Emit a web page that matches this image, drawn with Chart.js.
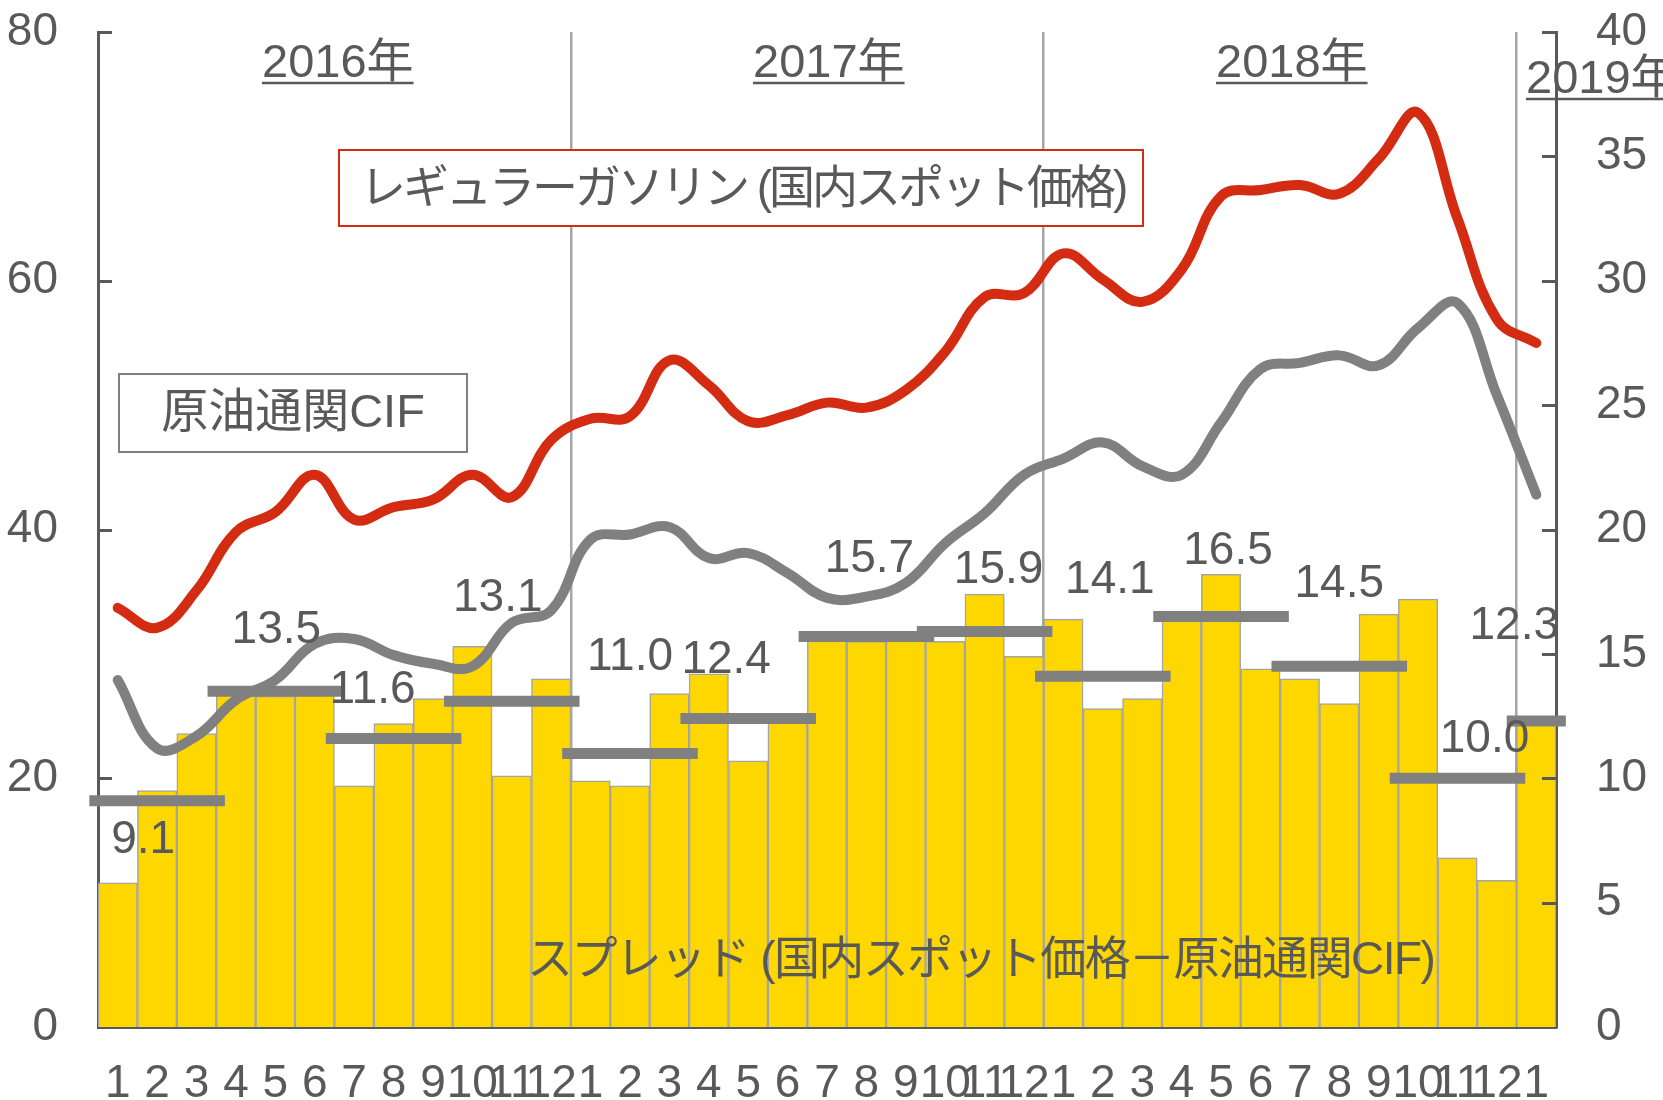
<!DOCTYPE html>
<html>
<head>
<meta charset="utf-8">
<script src="https://cdn.jsdelivr.net/npm/chart.js@4.4.0/dist/chart.umd.min.js"></script>
<style>
  html, body { margin: 0; padding: 0; background: #ffffff; }
  #wrap { width: 1663px; height: 1100px; }
</style>
</head>
<body>
<div id="wrap"><canvas id="spreadChart" width="1663" height="1100"></canvas></div>
<script>
// 2016/1 - 2019/1, monthly
const months = ['1', '2', '3', '4', '5', '6', '7', '8', '9', '10', '11', '12',
                '1', '2', '3', '4', '5', '6', '7', '8', '9', '10', '11', '12',
                '1', '2', '3', '4', '5', '6', '7', '8', '9', '10', '11', '12',
                '1'];

// レギュラーガソリン (国内スポット価格), left axis
const gasoline = [33.7, 32.1, 35.1, 39.8, 41.4, 44.4, 40.8, 41.8, 42.4, 44.4, 42.6, 47.2,
                  48.9, 49.1, 53.6, 51.6, 48.7, 49.2, 50.2, 49.8, 51.2, 54.3, 58.7, 59.0,
                  62.2, 60.1, 58.3, 60.9, 66.8, 67.3, 67.7, 67.0, 69.8, 73.5, 65.0, 56.9, 55.0];

// 原油通関CIF, left axis
const crudeCif = [27.9, 22.4, 23.4, 26.3, 27.9, 30.8, 31.2, 29.9, 29.2, 29.0, 32.5, 33.5,
                  39.2, 39.6, 40.2, 37.7, 38.1, 36.5, 34.5, 34.6, 35.7, 38.9, 41.3, 44.4,
                  45.7, 47.0, 45.1, 44.4, 48.6, 52.9, 53.4, 54.0, 53.2, 56.2, 58.2, 50.8, 42.8];

// スプレッド (monthly bars), right axis
const spread = [5.8, 9.5, 11.8, 13.4, 13.3, 13.5, 9.7, 12.2, 13.2, 15.3, 10.1, 14.0,
                9.9, 9.7, 13.4, 14.2, 10.7, 12.3, 15.8, 15.5, 15.8, 15.5, 17.4, 14.9,
                16.4, 12.8, 13.2, 16.4, 18.2, 14.4, 14.0, 13.0, 16.6, 17.2, 6.8, 5.9, 12.2];

// quarterly averages of the spread (last one = 2019/1 only)
const quarterAvg = [9.1, 13.5, 11.6, 13.1, 11.0, 12.4, 15.7, 15.9, 14.1, 16.5, 14.5, 10.0, 12.3];

const yearLabels = ['2016年', '2017年', '2018年', '2019年'];

// ---- styling / layout ----
const FONT = "'Liberation Sans', 'Noto Sans CJK JP', sans-serif";
const TEXT = '#595959';
const AXIS = '#595959';
const RED = '#D42C12';
const GREY = '#808080';

// label nudges (px) for the quarterly values, relative to the middle of each bar
const labelNudge = [[-14, 40], [1, -61], [-21, -48], [-14, -103], [0, -96], [-22, -58],
                    [3, -77], [14, -61], [7, -96], [7, -65], [0, -82], [27, -39], [-22, -95]];

// year headings: left x, baseline y
const yearPos = [[262, 77], [753, 77], [1216, 77], [1526, 93]];

// build the short horizontal quarterly bars on a linear helper axis
const quarterPoints = [];
quarterAvg.forEach((v, q) => {
    const last = q === quarterAvg.length - 1;
    const mid = last ? 36 : q * 3 + 1;
    const half = last ? 0.75 : 1.72;
    quarterPoints.push({x: mid - half, y: v}, {x: mid + half, y: v}, {x: mid + half, y: null});
});

const overlay = {
    id: 'overlay',
    afterDatasetsDraw(chart) {
        const c = chart.ctx;
        const area = chart.chartArea;
        const yL = chart.scales.y, yR = chart.scales.y2, xq = chart.scales.xq;
        c.save();

        // tick marks pointing into the plot
        c.strokeStyle = AXIS;
        c.lineWidth = 3;
        yL.ticks.forEach(t => {
            if (t.value === 0) return;
            const p = Math.round(yL.getPixelForValue(t.value)) + 0.5;
            c.beginPath(); c.moveTo(area.left, p); c.lineTo(area.left + 14, p); c.stroke();
        });
        yR.ticks.forEach(t => {
            if (t.value === 0) return;
            const p = Math.round(yR.getPixelForValue(t.value)) + 0.5;
            c.beginPath(); c.moveTo(area.right - 14, p); c.lineTo(area.right, p); c.stroke();
        });

        // quarterly values
        c.fillStyle = TEXT;
        c.font = '46px ' + FONT;
        c.textAlign = 'center';
        c.textBaseline = 'middle';
        quarterAvg.forEach((v, q) => {
            const last = q === quarterAvg.length - 1;
            const mid = last ? 36 : q * 3 + 1;
            const x = xq.getPixelForValue(mid) + labelNudge[q][0];
            const y = yR.getPixelForValue(v) + labelNudge[q][1];
            c.fillText(v.toFixed(1), x, y);
        });

        // year headings with underline
        c.font = '47px ' + FONT;
        c.textAlign = 'left';
        c.textBaseline = 'alphabetic';
        c.strokeStyle = TEXT;
        c.lineWidth = 2.5;
        yearLabels.forEach((t, i) => {
            const [x, y] = yearPos[i];
            c.fillText(t, x, y);
            const w = c.measureText(t).width;
            c.beginPath(); c.moveTo(x, y + 6); c.lineTo(x + w, y + 6); c.stroke();
        });

        // text boxes
        c.textBaseline = 'middle';

        c.fillStyle = '#ffffff';
        c.fillRect(339, 150, 804, 76);
        c.strokeStyle = RED; c.lineWidth = 2;
        c.strokeRect(339, 150, 804, 76);
        c.fillStyle = TEXT;
        c.font = '46px ' + FONT;
        c.textAlign = 'left';
        c.letterSpacing = '-3px';
        c.fillText('レギュラーガソリン (国内スポット価格)', 360, 190);

        c.letterSpacing = '0px';
        c.fillStyle = '#ffffff';
        c.fillRect(119, 374, 348, 78);
        c.strokeStyle = GREY; c.lineWidth = 2;
        c.strokeRect(119, 374, 348, 78);
        c.fillStyle = TEXT;
        c.font = '47px ' + FONT;
        c.textAlign = 'center';
        c.fillText('原油通関CIF', 293, 414);

        c.textAlign = 'left';
        c.font = '46px ' + FONT;
        c.letterSpacing = '-1.6px';
        c.fillText('スプレッド (国内スポット価格－原油通関CIF)', 527, 961);

        c.restore();
    }
};

Chart.defaults.font.family = FONT;
Chart.defaults.font.size = 46;
Chart.defaults.color = TEXT;

const noPad = s => { s.paddingTop = 0; s.paddingBottom = 0; };

const ctx = document.getElementById('spreadChart').getContext('2d');
new Chart(ctx, {
    type: 'bar',
    data: {
        labels: months,
        datasets: [
            {
                type: 'line',
                label: 'レギュラーガソリン (国内スポット価格)',
                data: gasoline,
                yAxisID: 'y',
                borderColor: RED,
                borderWidth: 10,
                tension: 0.4,
                pointRadius: 0,
                borderCapStyle: 'round',
                order: 0
            },
            {
                type: 'line',
                label: '原油通関CIF',
                data: crudeCif,
                yAxisID: 'y',
                borderColor: GREY,
                borderWidth: 10,
                tension: 0.4,
                pointRadius: 0,
                borderCapStyle: 'round',
                order: 1
            },
            {
                type: 'line',
                label: '四半期平均',
                data: quarterPoints,
                xAxisID: 'xq',
                yAxisID: 'y2',
                borderColor: GREY,
                borderWidth: 11,
                tension: 0,
                pointRadius: 0,
                spanGaps: false,
                borderCapStyle: 'butt',
                clip: false,
                order: 2
            },
            {
                type: 'bar',
                label: 'スプレッド (国内スポット価格－原油通関CIF)',
                data: spread,
                yAxisID: 'y2',
                backgroundColor: '#FFD700',
                borderColor: '#A5A5A5',
                borderWidth: 1.5,
                grouped: false,
                barPercentage: 1,
                categoryPercentage: 1,
                order: 3
            }
        ]
    },
    options: {
        responsive: false,
        animation: false,
        layout: { padding: { top: 32, right: 0, bottom: 0, left: 0 } },
        plugins: {
            legend: { display: false },
            tooltip: { enabled: false }
        },
        scales: {
            x: {
                offset: true,
                grid: {
                    offset: true,
                    drawTicks: false,
                    lineWidth: 2.5,
                    color: c => (c.index > 0 && c.index % 12 === 0) ? '#A6A6A6' : 'rgba(0,0,0,0)'
                },
                border: { color: AXIS, width: 3 },
                ticks: { autoSkip: false, maxRotation: 0, padding: 30 },
                afterFit: s => { s.height = 73; s.paddingLeft = 0; s.paddingRight = 0; }
            },
            xq: {
                type: 'linear',
                display: false,
                offset: false,
                grid: { offset: false },
                min: -0.5,
                max: 36.5
            },
            y: {
                position: 'left',
                min: 0,
                max: 80,
                ticks: { stepSize: 20, padding: 40 },
                grid: { display: false, drawTicks: false },
                border: { color: AXIS, width: 3 },
                afterFit: s => { s.width = 98; noPad(s); }
            },
            y2: {
                position: 'right',
                min: 0,
                max: 40,
                ticks: { stepSize: 5, padding: 40 },
                grid: { display: false, drawTicks: false },
                border: { color: AXIS, width: 3 },
                afterFit: s => { s.width = 107; noPad(s); }
            }
        }
    },
    plugins: [overlay]
});
</script>
</body>
</html>
